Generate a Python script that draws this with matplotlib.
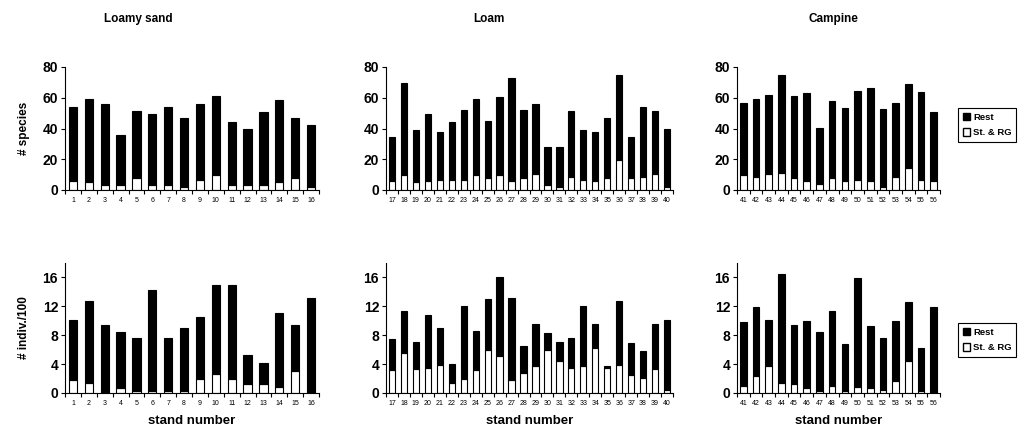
import matplotlib
matplotlib.use('Agg')
import matplotlib.pyplot as plt
from matplotlib.patches import Patch
import numpy as np

plt.rcParams['font.family'] = 'Liberation Sans'

# species counts (total bar height and St. & RG part)
sp_sand_tot = [54, 59.3, 56, 36, 51.3, 49.6, 54, 47, 56, 61.3, 44.3, 39.8, 50.7, 58.5, 47, 42.5]
sp_sand_st = [6, 5, 3.3, 3, 7.8, 3, 3, 2, 6.7, 9.6, 3, 3, 3, 5, 7.8, 2]
sp_loam_tot = [34.3, 69.3, 38.9, 49.6, 38, 44.3, 52.2, 59.3, 45.2, 60.2, 72.6, 52.2, 55.9,
               28, 28, 51.3, 38.9, 38, 47, 74.8, 34.4, 54, 51.3, 39.8]
sp_loam_st = [5.9, 9.6, 5, 5.9, 6.7, 6.7, 6.7, 9.6, 7.8, 9.6, 5.9, 7.8, 10.4,
              3.3, 2, 8.7, 6.7, 5.9, 7.8, 19.6, 7.8, 8.7, 10.4, 2]
sp_camp_tot = [56.4, 59, 61.9, 74.7, 61, 62.8, 40.1, 58.1, 53.5, 64.5, 66.3, 52.6, 56.4, 69.2, 63.7, 50.9]
sp_camp_st = [9.5, 8.6, 10.4, 11.2, 7.7, 5.7, 4, 7.7, 5.7, 6.8, 5.7, 2.2, 8.6, 14.1, 6.8, 5.7]

# individuals / 100
in_sand_tot = [10.16, 12.8, 9.4, 8.44, 7.65, 14.33, 7.65, 9.0, 10.57, 14.9, 14.9, 5.2, 4.2, 11.1, 9.4, 13.2]
in_sand_st = [1.8, 1.44, 0.0, 0.65, 0.28, 0.28, 0.28, 0.28, 2.0, 2.6, 2.0, 1.25, 1.25, 0.83, 3.0, 0.1]
in_loam_tot = [7.5, 11.3, 7.1, 10.76, 9.0, 4.03, 12.06, 8.58, 13.03, 16.05, 13.2, 6.54, 9.55,
               8.26, 7.1, 7.65, 12.06, 9.55, 3.8, 12.8, 6.9, 5.8, 9.6, 10.16]
in_loam_st = [3.15, 5.6, 3.3, 3.48, 3.9, 1.4, 2.0, 3.15, 5.98, 5.06, 1.8, 2.78, 3.7,
              5.98, 4.45, 3.48, 3.7, 6.17, 3.48, 3.9, 2.55, 2.13, 3.34, 0.46]
in_camp_tot = [9.79, 11.87, 10.16, 16.47, 9.4, 9.97, 8.44, 11.3, 6.73, 15.9, 9.23, 7.65, 9.97, 12.66, 6.17, 11.87]
in_camp_st = [1.0, 2.37, 3.7, 1.4, 1.2, 0.65, 0.28, 1.0, 0.28, 0.83, 0.65, 0.46, 1.6, 4.45, 0.28, 0.0]

stands_sand = list(range(1, 17))
stands_loam = list(range(17, 41))
stands_camp = list(range(41, 57))

titles = ['Loamy sand', 'Loam', 'Campine']

W, H = 1031, 437
fig = plt.figure(figsize=(W / 100, H / 100), dpi=100)

cols = [(65, 319), (386, 673), (737, 940)]
rows = [(67, 190), (263, 393)]


def panel(x0, x1, y0, y1, stands, tot, st, ymax, yticks):
    ax = fig.add_axes([x0 / W, 1 - y1 / H, (x1 - x0) / W, (y1 - y0) / H])
    n = len(stands)
    x = np.arange(n)
    tot = np.array(tot)
    st = np.array(st)
    ax.bar(x, st, width=0.52, color='white', edgecolor='black', linewidth=0.8)
    ax.bar(x, tot - st, bottom=st, width=0.52, color='black', edgecolor='black', linewidth=0.8)
    ax.set_xlim(-0.5, n - 0.5)
    ax.set_ylim(0, ymax)
    ax.set_yticks(yticks)
    ax.set_yticklabels([str(v) for v in yticks], fontsize=10, fontweight='bold')
    ax.set_xticks(x)
    ax.set_xticklabels([str(s) for s in stands], fontsize=5)
    ax.set_xticks(np.arange(n + 1) - 0.5, minor=True)
    ax.tick_params(axis='x', which='major', length=0, pad=5)
    ax.tick_params(axis='x', which='minor', length=3, direction='out', width=0.8)
    ax.tick_params(axis='y', length=3, width=0.8, pad=2)
    for s in ['top', 'right']:
        ax.spines[s].set_visible(False)
    for s in ['left', 'bottom']:
        ax.spines[s].set_linewidth(0.8)
    return ax


top_data = [(stands_sand, sp_sand_tot, sp_sand_st),
            (stands_loam, sp_loam_tot, sp_loam_st),
            (stands_camp, sp_camp_tot, sp_camp_st)]
bot_data = [(stands_sand, in_sand_tot, in_sand_st),
            (stands_loam, in_loam_tot, in_loam_st),
            (stands_camp, in_camp_tot, in_camp_st)]

for i, (c, d) in enumerate(zip(cols, top_data)):
    ax = panel(c[0], c[1], rows[0][0], rows[0][1], d[0], d[1], d[2], 80, [0, 20, 40, 60, 80])
    if i == 0:
        ax.set_ylabel('# species', fontsize=8.5, fontweight='bold', labelpad=9)

for i, (c, d) in enumerate(zip(cols, bot_data)):
    ax = panel(c[0], c[1], rows[1][0], rows[1][1], d[0], d[1], d[2], 18, [0, 4, 8, 12, 16])
    ax.set_xlabel('stand number', fontsize=9.5, fontweight='bold', labelpad=6)
    if i == 0:
        ax.set_ylabel('# indiv./100', fontsize=8.5, fontweight='bold', labelpad=9)

title_x = [138, 489, 833]
for t, tx in zip(titles, title_x):
    fig.text(tx / W, 1 - 19 / H, t, ha='center', va='center', fontsize=8.5, fontweight='bold')

handles = [Patch(facecolor='black', edgecolor='black', label='Rest'),
           Patch(facecolor='white', edgecolor='black', label='St. & RG')]
for ly in [108, 323]:
    leg = fig.legend(handles=handles, loc='upper left', bbox_to_anchor=(958 / W, 1 - ly / H),
                     bbox_transform=fig.transFigure, fancybox=False, framealpha=1,
                     edgecolor='black', prop={'size': 6.8, 'weight': 'bold'},
                     handlelength=0.8, handleheight=0.8, handletextpad=0.3,
                     borderpad=0.5, labelspacing=0.7, borderaxespad=0)
    leg.get_frame().set_linewidth(0.8)

fig.savefig('out.png', dpi=100)
